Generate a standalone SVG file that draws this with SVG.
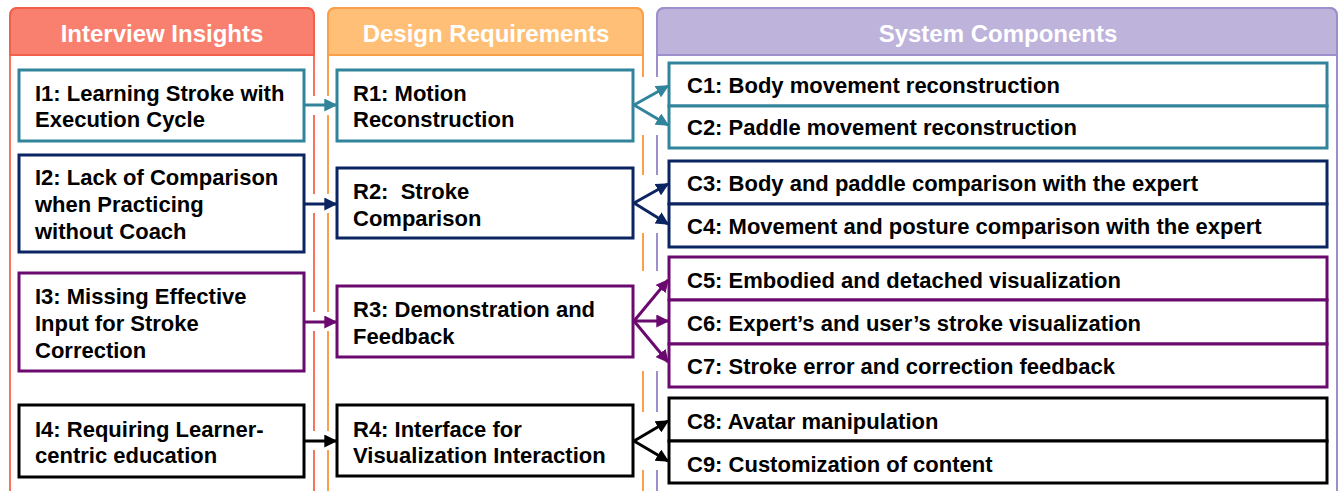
<svg xmlns="http://www.w3.org/2000/svg" width="1340" height="491" viewBox="0 0 1340 491">
<style>
  text { font-family: "Liberation Sans", Arial, sans-serif; font-weight: bold; }
  .hdr { fill: #ffffff; font-size: 24px; text-anchor: middle; }
  .lbl { fill: #000000; font-size: 22px; }
  .box { fill: #ffffff; stroke-width: 3; }
  .teal { stroke: #31849B; }
  .navy { stroke: #0B2462; }
  .purp { stroke: #6A0A6E; }
  .blk { stroke: #000000; }
  .conn { fill: none; stroke-width: 3; }
  .gap { fill: #ffffff; stroke: none; }
</style>
<defs>
  <marker id="aTeal" viewBox="0 0 10 10" refX="9" refY="5" markerWidth="13" markerHeight="13" markerUnits="userSpaceOnUse" orient="auto"><path d="M0,0 L10,5 L0,10 z" fill="#31849B"/></marker>
  <marker id="aNavy" viewBox="0 0 10 10" refX="9" refY="5" markerWidth="13" markerHeight="13" markerUnits="userSpaceOnUse" orient="auto"><path d="M0,0 L10,5 L0,10 z" fill="#0B2462"/></marker>
  <marker id="aPurp" viewBox="0 0 10 10" refX="9" refY="5" markerWidth="13" markerHeight="13" markerUnits="userSpaceOnUse" orient="auto"><path d="M0,0 L10,5 L0,10 z" fill="#6A0A6E"/></marker>
  <marker id="aBlk" viewBox="0 0 10 10" refX="9" refY="5" markerWidth="13" markerHeight="13" markerUnits="userSpaceOnUse" orient="auto"><path d="M0,0 L10,5 L0,10 z" fill="#000000"/></marker>
</defs>
<rect width="1340" height="491" fill="#ffffff"/>

<!-- Panels -->
<g id="panel-insights">
  <path d="M10,495 L10,16 Q10,8 18,8 L306,8 Q314,8 314,16 L314,495" fill="none" stroke="#F7735F" stroke-width="2"/>
  <path d="M10,55 L10,16 Q10,8 18,8 L306,8 Q314,8 314,16 L314,55 Z" fill="#F9806F" stroke="#F2604C" stroke-width="2"/>
  <text class="hdr" x="162" y="42">Interview Insights</text>
</g>
<g id="panel-requirements">
  <path d="M328,495 L328,16 Q328,8 336,8 L635,8 Q643,8 643,16 L643,495" fill="none" stroke="#F9A048" stroke-width="2"/>
  <path d="M328,55 L328,16 Q328,8 336,8 L635,8 Q643,8 643,16 L643,55 Z" fill="#FFBF77" stroke="#F9A048" stroke-width="2"/>
  <text class="hdr" x="486" y="42">Design Requirements</text>
</g>
<g id="panel-components">
  <path d="M657,495 L657,16 Q657,8 665,8 L1329,8 Q1337,8 1337,16 L1337,495" fill="none" stroke="#9D8FCB" stroke-width="2"/>
  <path d="M657,55 L657,16 Q657,8 665,8 L1329,8 Q1337,8 1337,16 L1337,55 Z" fill="#BDB3DB" stroke="#9D8FCB" stroke-width="2"/>
  <text class="hdr" x="998" y="42">System Components</text>
</g>

<!-- Connectors -->
<g id="connectors">
  <rect class="gap" x="311" y="96" width="21" height="19"/>
  <rect class="gap" x="311" y="194" width="21" height="19"/>
  <rect class="gap" x="311" y="312" width="21" height="19"/>
  <rect class="gap" x="311" y="431" width="21" height="19"/>
  <rect class="gap" x="640" y="77" width="20" height="58"/>
  <rect class="gap" x="640" y="175" width="20" height="58"/>
  <rect class="gap" x="640" y="271" width="20" height="100"/>
  <rect class="gap" x="640" y="412" width="20" height="58"/>

  <line class="conn teal" x1="304" y1="105" x2="336" y2="105" marker-end="url(#aTeal)"/>
  <line class="conn navy" x1="304" y1="204" x2="336" y2="204" marker-end="url(#aNavy)"/>
  <line class="conn purp" x1="304" y1="322" x2="336" y2="322" marker-end="url(#aPurp)"/>
  <line class="conn blk" x1="304" y1="441" x2="336" y2="441" marker-end="url(#aBlk)"/>

  <line class="conn teal" x1="634" y1="105" x2="668" y2="86" marker-end="url(#aTeal)"/>
  <line class="conn teal" x1="634" y1="105" x2="668" y2="125" marker-end="url(#aTeal)"/>
  <line class="conn navy" x1="634" y1="203" x2="668" y2="184" marker-end="url(#aNavy)"/>
  <line class="conn navy" x1="634" y1="203" x2="668" y2="224" marker-end="url(#aNavy)"/>
  <line class="conn purp" x1="634" y1="321" x2="668" y2="280" marker-end="url(#aPurp)"/>
  <line class="conn purp" x1="634" y1="321" x2="668" y2="321" marker-end="url(#aPurp)"/>
  <line class="conn purp" x1="634" y1="321" x2="668" y2="362" marker-end="url(#aPurp)"/>
  <line class="conn blk" x1="634" y1="441" x2="668" y2="421" marker-end="url(#aBlk)"/>
  <line class="conn blk" x1="634" y1="441" x2="668" y2="461" marker-end="url(#aBlk)"/>
</g>

<!-- Insight nodes -->
<g id="I1">
  <rect class="box teal" x="19" y="70" width="285" height="71"/>
  <text class="lbl" x="35" y="101">I1: Learning Stroke with</text>
  <text class="lbl" x="35" y="127">Execution Cycle</text>
</g>
<g id="I2">
  <rect class="box navy" x="19" y="155" width="285" height="97"/>
  <text class="lbl" x="35" y="185">I2: Lack of Comparison</text>
  <text class="lbl" x="35" y="212">when Practicing</text>
  <text class="lbl" x="35" y="239">without Coach</text>
</g>
<g id="I3">
  <rect class="box purp" x="19" y="273" width="285" height="98"/>
  <text class="lbl" x="35" y="304">I3: Missing Effective</text>
  <text class="lbl" x="35" y="331">Input for Stroke</text>
  <text class="lbl" x="35" y="358">Correction</text>
</g>
<g id="I4">
  <rect class="box blk" x="19" y="405" width="285" height="72"/>
  <text class="lbl" x="35" y="437">I4: Requiring Learner-</text>
  <text class="lbl" x="35" y="463">centric education</text>
</g>

<!-- Requirement nodes -->
<g id="R1">
  <rect class="box teal" x="337" y="70" width="296" height="71"/>
  <text class="lbl" x="353" y="101">R1: Motion</text>
  <text class="lbl" x="353" y="127">Reconstruction</text>
</g>
<g id="R2">
  <rect class="box navy" x="337" y="168" width="296" height="70"/>
  <text class="lbl" x="353" y="199" xml:space="preserve">R2:  Stroke</text>
  <text class="lbl" x="353" y="226">Comparison</text>
</g>
<g id="R3">
  <rect class="box purp" x="337" y="286" width="296" height="71"/>
  <text class="lbl" x="353" y="317">R3: Demonstration and</text>
  <text class="lbl" x="353" y="344">Feedback</text>
</g>
<g id="R4">
  <rect class="box blk" x="337" y="405" width="296" height="71"/>
  <text class="lbl" x="353" y="437">R4: Interface for</text>
  <text class="lbl" x="353" y="463">Visualization Interaction</text>
</g>

<!-- Component nodes -->
<g id="C1">
  <rect class="box teal" x="669" y="63" width="658" height="43"/>
  <text class="lbl" x="687" y="93">C1: Body movement reconstruction</text>
</g>
<g id="C2">
  <rect class="box teal" x="669" y="106" width="658" height="42"/>
  <text class="lbl" x="687" y="135">C2: Paddle movement reconstruction</text>
</g>
<g id="C3">
  <rect class="box navy" x="669" y="161" width="658" height="43"/>
  <text class="lbl" x="687" y="191">C3: Body and paddle comparison with the expert</text>
</g>
<g id="C4">
  <rect class="box navy" x="669" y="204" width="658" height="43"/>
  <text class="lbl" x="687" y="234">C4: Movement and posture comparison with the expert</text>
</g>
<g id="C5">
  <rect class="box purp" x="669" y="257" width="658" height="43"/>
  <text class="lbl" x="687" y="288">C5: Embodied and detached visualization</text>
</g>
<g id="C6">
  <rect class="box purp" x="669" y="300" width="658" height="44"/>
  <text class="lbl" x="687" y="331">C6: Expert’s and user’s stroke visualization</text>
</g>
<g id="C7">
  <rect class="box purp" x="669" y="344" width="658" height="43"/>
  <text class="lbl" x="687" y="374">C7: Stroke error and correction feedback</text>
</g>
<g id="C8">
  <rect class="box blk" x="669" y="398" width="658" height="43"/>
  <text class="lbl" x="687" y="429">C8: Avatar manipulation</text>
</g>
<g id="C9">
  <rect class="box blk" x="669" y="441" width="658" height="42"/>
  <text class="lbl" x="687" y="472">C9: Customization of content</text>
</g>
</svg>
